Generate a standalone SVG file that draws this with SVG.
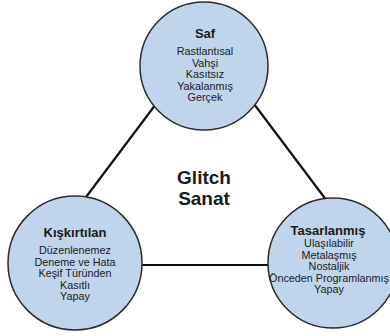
<svg xmlns="http://www.w3.org/2000/svg" width="390" height="336" viewBox="0 0 390 336">
<style>
.c{fill:#c0d5ec;stroke:#2b2b2b;stroke-width:1.5}
.l{stroke:#111;stroke-width:2.2;fill:none}
text{font-family:"Liberation Sans",Arial,sans-serif;fill:#1a1a1a;text-anchor:middle}
.t{font-weight:bold;font-size:13px}
.i{font-size:10.8px}
.g{font-weight:bold;font-size:19px}
</style>
<rect width="390" height="336" fill="#fff"/>
<g id="connectors">
<line class="l" x1="165" y1="92" x2="80" y2="205"/>
<line class="l" x1="245" y1="92" x2="330" y2="205"/>
<line class="l" x1="120" y1="265" x2="290" y2="265"/>
</g>
<g id="saf">
<circle class="c" cx="204" cy="66" r="64"/>
<text class="t" x="205" y="38">Saf</text>
<text class="i" x="205" y="55">Rastlantısal</text>
<text class="i" x="205" y="66.5">Vahşi</text>
<text class="i" x="205" y="78">Kasıtsız</text>
<text class="i" x="205" y="89.5">Yakalanmış</text>
<text class="i" x="205" y="101">Gerçek</text>
</g>
<g id="kiskirtilan">
<circle class="c" cx="75" cy="263" r="67"/>
<text class="t" x="75" y="237">Kışkırtılan</text>
<text class="i" x="75" y="254">Düzenlenemez</text>
<text class="i" x="75" y="265.5">Deneme ve Hata</text>
<text class="i" x="75" y="277">Keşif Türünden</text>
<text class="i" x="75" y="288.5">Kasıtlı</text>
<text class="i" x="75" y="300">Yapay</text>
</g>
<g id="tasarlanmis">
<circle class="c" cx="333" cy="263" r="65"/>
<text class="t" x="328" y="235">Tasarlanmış</text>
<text class="i" x="329" y="247">Ulaşılabilir</text>
<text class="i" x="329" y="258.5">Metalaşmış</text>
<text class="i" x="329" y="270">Nostaljik</text>
<text class="i" x="329" y="281.5">Önceden Programlanmış</text>
<text class="i" x="329" y="293">Yapay</text>
</g>
<g id="center">
<text class="g" x="204" y="184">Glitch</text>
<text class="g" x="204" y="205">Sanat</text>
</g>
</svg>
